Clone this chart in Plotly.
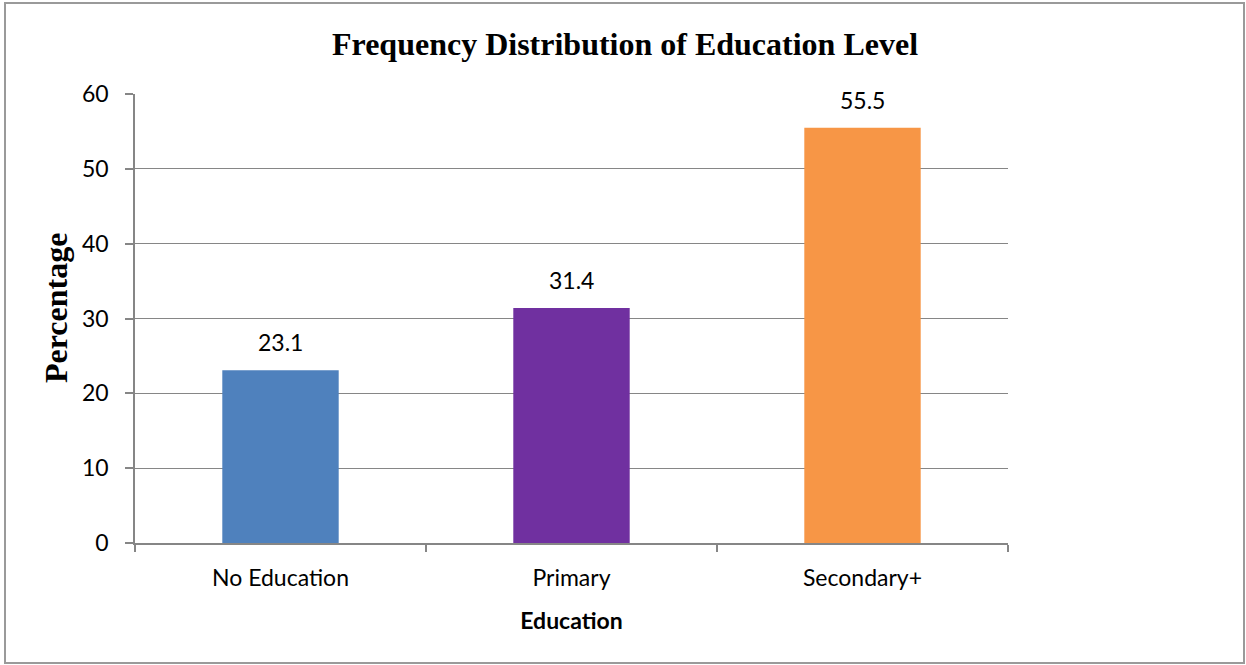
import plotly.graph_objects as go

# Education level shares (%)
categories = ["No Education", "Primary", "Secondary+"]
percentages = [23.1, 31.4, 55.5]
bar_colors = ["#4F81BD", "#7030A0", "#F79646"]
y_ticks = [0, 10, 20, 30, 40, 50, 60]

W, H = 1246, 665
L, R, T, B = 135, 238, 94, 122
pw, ph = W - L - R, H - T - B

SANS = "Lato, Open Sans, sans-serif"
SERIF = "Liberation Serif, Times New Roman, serif"


def px_to_paper_x(px):
    return (px - L) / pw


def px_to_paper_y(py):
    return (H - B - py) / ph


fig = go.Figure()
fig.add_trace(go.Bar(
    x=categories,
    y=percentages,
    marker=dict(color=bar_colors, line=dict(width=0)),
    hoverinfo="x+y",
))

# value labels above each bar
for c, v in zip(categories, percentages):
    fig.add_annotation(
        x=c, y=v, text=f"{v}", showarrow=False,
        yanchor="bottom", yshift=12,
        font=dict(family=SANS, size=23, color="#000000"),
    )

# rotated y-axis title, placed slightly above the plot's vertical centre
fig.add_annotation(
    xref="paper", yref="paper",
    x=px_to_paper_x(56), y=px_to_paper_y(308),
    xanchor="center", yanchor="middle",
    text="<b>Percentage</b>", textangle=-90, showarrow=False,
    font=dict(family=SERIF, size=32, color="#000000"),
)

# outer frame around the whole chart
fig.add_shape(
    type="rect", xref="paper", yref="paper",
    x0=px_to_paper_x(5), x1=px_to_paper_x(1244),
    y0=px_to_paper_y(663), y1=px_to_paper_y(3),
    line=dict(color="#9a9a9a", width=2), fillcolor="rgba(0,0,0,0)", layer="below",
)

fig.update_layout(
    width=W, height=H,
    margin=dict(l=L, r=R, t=T, b=B, pad=0),
    paper_bgcolor="white", plot_bgcolor="white",
    showlegend=False,
    bargap=0.6,
    title=dict(
        text="<b>Frequency Distribution of Education Level</b>",
        x=(333 + 917) / 2 / W, xref="container", xanchor="center",
        y=1 - 44 / H, yref="container", yanchor="middle",
        font=dict(family=SERIF, size=32, color="#000000"),
    ),
    xaxis=dict(
        type="category",
        showgrid=False,
        showline=True, linecolor="#868686", linewidth=1.5,
        ticks="outside", tickson="boundaries", ticklen=7, tickcolor="#868686", tickwidth=1.5,
        ticklabelstandoff=14,
        tickfont=dict(family=SANS, size=23, color="#000000"),
        title=dict(text="<b>Education</b>", standoff=23,
                   font=dict(family=SANS, size=23, color="#000000")),
    ),
    yaxis=dict(
        range=[0, 60], tickvals=y_ticks,
        showgrid=True, gridcolor="#868686", gridwidth=1.2,
        showline=True, linecolor="#868686", linewidth=1.5,
        ticks="outside", ticklen=8, tickcolor="#868686", tickwidth=1.5,
        ticklabelstandoff=12,
        zeroline=False,
        tickfont=dict(family=SANS, size=23, color="#000000"),
    ),
)

fig.write_html("out.html")
